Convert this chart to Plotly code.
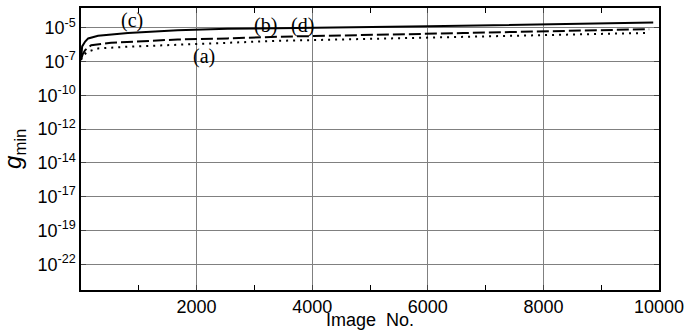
import numpy as np
import plotly.graph_objects as go

# Image numbers (x) and g_min values for the three curves
x_c = [0, 20, 72, 124, 296, 812, 1673, 2534, 3394, 6010, 9900]
g_c = [1.1e-7, 9.3e-7, 2.1e-6, 3.5e-6, 5.4e-6, 8.7e-6, 1.35e-5, 1.7e-5, 1.86e-5, 2.57e-5, 4.8e-5]

x_b = [0, 30, 72, 176, 520, 1107, 1673, 2534, 3394, 6616, 9830]
g_b = [1.1e-7, 2.6e-7, 5.1e-7, 1.15e-6, 1.7e-6, 2.35e-6, 2.94e-6, 3.5e-6, 4.6e-6, 8.5e-6, 1.6e-5]

x_a = [0, 40, 124, 296, 812, 1673, 2534, 3394, 6616, 9830]
g_a = [1.0e-7, 2.2e-7, 4.1e-7, 6.7e-7, 8.9e-7, 1.29e-6, 1.7e-6, 2.35e-6, 4.8e-6, 8.7e-6]

# y tick exponents (positions) and their printed labels
y_tick_exp = [-4.7, -7.12, -9.54, -11.96, -14.38, -16.8, -19.22, -21.64]
y_tick_lab = ["-5", "-7", "-10", "-12", "-14", "-17", "-19", "-22"]
x_tick_vals = [2000, 4000, 6000, 8000, 10000]
x_tick_text = ["2000", "4000", "6000", "8000", "10000"]

# curve labels: text, x, log10(y)
labels = [("(c)", 890, -4.18), ("(b)", 3188, -4.54), ("(d)", 3825, -4.54), ("(a)", 2120, -6.74)]

fig = go.Figure()
fig.add_trace(go.Scatter(x=x_a, y=g_a, mode="lines", line=dict(color="black", width=2, dash="2px,5px")))
fig.add_trace(go.Scatter(x=x_b, y=g_b, mode="lines", line=dict(color="black", width=2, dash="12px,4px")))
fig.add_trace(go.Scatter(x=x_c, y=g_c, mode="lines", line=dict(color="black", width=2)))

for t, xx, yy in labels:
    fig.add_annotation(x=xx, y=yy, xref="x", yref="y", text=t, showarrow=False,
                       font=dict(family="Liberation Serif", size=20, color="black"))

axis_font = dict(family="Liberation Sans, Arial", size=18, color="black")

# axis titles as annotations for precise placement
fig.add_annotation(x=0.5, y=-0.107, xref="paper", yref="paper", text="Image&nbsp;&nbsp;No.",
                   showarrow=False, font=axis_font, xanchor="center", yanchor="middle")
fig.add_annotation(x=-0.116, y=0.5, xref="paper", yref="paper", text="<i>g</i><sub>min</sub>",
                   textangle=-90, showarrow=False,
                   font=dict(family="Liberation Sans, Arial", size=24, color="black"),
                   xanchor="center", yanchor="middle")

fig.update_layout(
    width=690, height=335,
    margin=dict(l=81, r=28, t=6, b=45),
    paper_bgcolor="white", plot_bgcolor="white",
    showlegend=False,
    font=axis_font,
    xaxis=dict(range=[0, 10000], tickvals=x_tick_vals, ticktext=x_tick_text, ticks="inside", ticklen=5,
               showgrid=True, gridcolor="#808080", gridwidth=1,
               showline=True, linecolor="black", linewidth=1.5, mirror="allticks",
               minor=dict(dtick=1000, ticks="inside", ticklen=5, showgrid=False, tickcolor="black"),
               zeroline=False, tickfont=axis_font),
    yaxis=dict(type="log", range=[-23.49, -3.276],
               tickvals=[10 ** e for e in y_tick_exp],
               ticktext=["10<sup>%s</sup>" % s for s in y_tick_lab],
               ticks="inside", ticklen=5,
               showgrid=True, gridcolor="#808080", gridwidth=1,
               showline=True, linecolor="black", linewidth=1.5, mirror="allticks",
               zeroline=False, tickfont=axis_font),
)
fig.write_html("out.html", post_script="document.body.style.margin='0';",
               config={"displayModeBar": False})
